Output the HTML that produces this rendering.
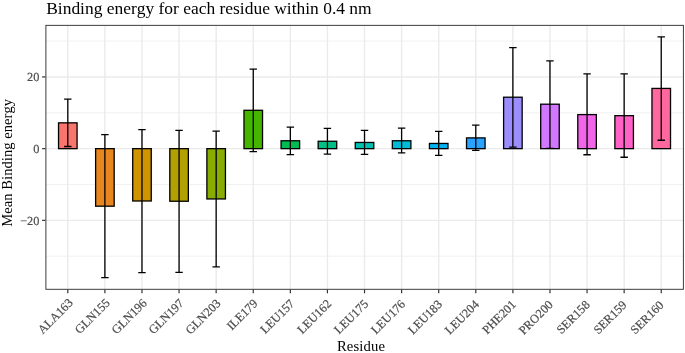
<!DOCTYPE html>
<html><head><meta charset="utf-8"><title>Binding energy</title>
<style>
html,body{margin:0;padding:0;background:#fff;}
body{width:685px;height:353px;overflow:hidden;}
svg{display:block;font-family:"Liberation Serif",serif;font-kerning:none;will-change:transform;}
</style></head>
<body>
<svg width="685" height="353" viewBox="0 0 685 353">
<rect x="0" y="0" width="685" height="353" fill="#fff"/>
<g stroke="#EBEBEB" stroke-width="0.71" fill="none">
<line x1="46.0" x2="683.2" y1="41.10" y2="41.10"/>
<line x1="46.0" x2="683.2" y1="112.80" y2="112.80"/>
<line x1="46.0" x2="683.2" y1="184.50" y2="184.50"/>
<line x1="46.0" x2="683.2" y1="256.20" y2="256.20"/>
</g>
<g stroke="#EBEBEB" stroke-width="1.42" fill="none">
<line x1="46.0" x2="683.2" y1="76.95" y2="76.95"/>
<line x1="46.0" x2="683.2" y1="148.65" y2="148.65"/>
<line x1="46.0" x2="683.2" y1="220.35" y2="220.35"/>
<line x1="67.80" x2="67.80" y1="25.6" y2="289.2"/>
<line x1="104.89" x2="104.89" y1="25.6" y2="289.2"/>
<line x1="141.98" x2="141.98" y1="25.6" y2="289.2"/>
<line x1="179.07" x2="179.07" y1="25.6" y2="289.2"/>
<line x1="216.16" x2="216.16" y1="25.6" y2="289.2"/>
<line x1="253.25" x2="253.25" y1="25.6" y2="289.2"/>
<line x1="290.34" x2="290.34" y1="25.6" y2="289.2"/>
<line x1="327.43" x2="327.43" y1="25.6" y2="289.2"/>
<line x1="364.52" x2="364.52" y1="25.6" y2="289.2"/>
<line x1="401.61" x2="401.61" y1="25.6" y2="289.2"/>
<line x1="438.70" x2="438.70" y1="25.6" y2="289.2"/>
<line x1="475.79" x2="475.79" y1="25.6" y2="289.2"/>
<line x1="512.88" x2="512.88" y1="25.6" y2="289.2"/>
<line x1="549.97" x2="549.97" y1="25.6" y2="289.2"/>
<line x1="587.06" x2="587.06" y1="25.6" y2="289.2"/>
<line x1="624.15" x2="624.15" y1="25.6" y2="289.2"/>
<line x1="661.24" x2="661.24" y1="25.6" y2="289.2"/>
</g>
<g stroke="#000" stroke-width="1.3" stroke-linejoin="miter">
<rect x="58.53" y="122.84" width="18.55" height="25.81" fill="#F8766D"/>
<rect x="95.62" y="148.65" width="18.55" height="57.54" fill="#E7851E"/>
<rect x="132.71" y="148.65" width="18.55" height="52.34" fill="#D09400"/>
<rect x="169.80" y="148.65" width="18.55" height="52.59" fill="#B2A100"/>
<rect x="206.89" y="148.65" width="18.55" height="50.30" fill="#89AC00"/>
<rect x="243.98" y="110.29" width="18.55" height="38.36" fill="#45B500"/>
<rect x="281.07" y="140.76" width="18.55" height="7.89" fill="#00BC51"/>
<rect x="318.16" y="141.26" width="18.55" height="7.39" fill="#00C087"/>
<rect x="355.25" y="142.45" width="18.55" height="6.20" fill="#00C0B2"/>
<rect x="392.34" y="140.76" width="18.55" height="7.89" fill="#00BCD6"/>
<rect x="429.43" y="143.45" width="18.55" height="5.20" fill="#00B3F2"/>
<rect x="466.52" y="137.90" width="18.55" height="10.75" fill="#29A3FF"/>
<rect x="503.61" y="97.21" width="18.55" height="51.44" fill="#9C8DFF"/>
<rect x="540.70" y="104.20" width="18.55" height="44.45" fill="#D277FF"/>
<rect x="577.79" y="114.59" width="18.55" height="34.06" fill="#F166E8"/>
<rect x="614.88" y="115.67" width="18.55" height="32.98" fill="#FF61C7"/>
<rect x="651.97" y="88.42" width="18.55" height="60.23" fill="#FF689E"/>
</g>
<g stroke="#000" stroke-width="1.3" fill="none" stroke-linecap="butt">
<path d="M64.09 99.18H71.51M67.80 99.18V146.50M64.09 146.50H71.51"/>
<path d="M101.18 134.56H108.60M104.89 134.56V277.71M101.18 277.71H108.60"/>
<path d="M138.27 129.65H145.69M141.98 129.65V272.69M138.27 272.69H145.69"/>
<path d="M175.36 130.37H182.78M179.07 130.37V272.33M175.36 272.33H182.78"/>
<path d="M212.45 131.08H219.87M216.16 131.08V266.85M212.45 266.85H219.87"/>
<path d="M249.54 69.06H256.96M253.25 69.06V151.55M249.54 151.55H256.96"/>
<path d="M286.63 127.14H294.05M290.34 127.14V154.57M286.63 154.57H294.05"/>
<path d="M323.72 128.36H331.14M327.43 128.36V154.03M323.72 154.03H331.14"/>
<path d="M360.81 130.37H368.23M364.52 130.37V154.39M360.81 154.39H368.23"/>
<path d="M397.90 128.22H405.32M401.61 128.22V152.95M397.90 152.95H405.32"/>
<path d="M434.99 131.44H442.41M438.70 131.44V155.46M434.99 155.46H442.41"/>
<path d="M472.08 125.17H479.50M475.79 125.17V150.44M472.08 150.44H479.50"/>
<path d="M509.17 47.55H516.59M512.88 47.55V147.04M509.17 147.04H516.59"/>
<path d="M546.26 60.82H553.68M549.97 60.82V148.29M546.26 148.29H553.68"/>
<path d="M583.35 73.87H590.77M587.06 73.87V154.74M583.35 154.74H590.77"/>
<path d="M620.44 73.87H627.86M624.15 73.87V157.25M620.44 157.25H627.86"/>
<path d="M657.53 36.80H664.95M661.24 36.80V140.23M657.53 140.23H664.95"/>
</g>
<rect x="45.9" y="25.35" width="637.50" height="263.95" fill="none" stroke="#333333" stroke-width="0.95"/>
<g stroke="#333333" stroke-width="1.2" fill="none">
<line x1="42.1" x2="45.5" y1="76.95" y2="76.95"/>
<line x1="42.1" x2="45.5" y1="148.65" y2="148.65"/>
<line x1="42.1" x2="45.5" y1="220.35" y2="220.35"/>
<line x1="67.80" x2="67.80" y1="289.7" y2="293.3"/>
<line x1="104.89" x2="104.89" y1="289.7" y2="293.3"/>
<line x1="141.98" x2="141.98" y1="289.7" y2="293.3"/>
<line x1="179.07" x2="179.07" y1="289.7" y2="293.3"/>
<line x1="216.16" x2="216.16" y1="289.7" y2="293.3"/>
<line x1="253.25" x2="253.25" y1="289.7" y2="293.3"/>
<line x1="290.34" x2="290.34" y1="289.7" y2="293.3"/>
<line x1="327.43" x2="327.43" y1="289.7" y2="293.3"/>
<line x1="364.52" x2="364.52" y1="289.7" y2="293.3"/>
<line x1="401.61" x2="401.61" y1="289.7" y2="293.3"/>
<line x1="438.70" x2="438.70" y1="289.7" y2="293.3"/>
<line x1="475.79" x2="475.79" y1="289.7" y2="293.3"/>
<line x1="512.88" x2="512.88" y1="289.7" y2="293.3"/>
<line x1="549.97" x2="549.97" y1="289.7" y2="293.3"/>
<line x1="587.06" x2="587.06" y1="289.7" y2="293.3"/>
<line x1="624.15" x2="624.15" y1="289.7" y2="293.3"/>
<line x1="661.24" x2="661.24" y1="289.7" y2="293.3"/>
</g>
<g font-size="12.3px" fill="#4D4D4D" text-anchor="end" style="text-rendering:geometricPrecision" stroke="#4D4D4D" stroke-width="0.18">
<text x="39.4" y="81.45">20</text>
<text x="39.4" y="153.15">0</text>
<text x="39.4" y="224.85">−20</text>
</g>
<g font-size="12.3px" fill="#4D4D4D" text-anchor="end" stroke="#4D4D4D" stroke-width="0.2">
<text transform="translate(67.90,297.70) rotate(-45)" x="0" y="8.2">ALA163</text>
<text transform="translate(104.81,297.84) rotate(-45)" x="0" y="8.2">GLN155</text>
<text transform="translate(141.73,297.99) rotate(-45)" x="0" y="8.2">GLN196</text>
<text transform="translate(178.64,298.13) rotate(-45)" x="0" y="8.2">GLN197</text>
<text transform="translate(215.56,298.27) rotate(-45)" x="0" y="8.2">GLN203</text>
<text transform="translate(252.47,298.42) rotate(-45)" x="0" y="8.2">ILE179</text>
<text transform="translate(289.39,298.56) rotate(-45)" x="0" y="8.2">LEU157</text>
<text transform="translate(326.31,298.71) rotate(-45)" x="0" y="8.2">LEU162</text>
<text transform="translate(363.22,298.85) rotate(-45)" x="0" y="8.2">LEU175</text>
<text transform="translate(400.14,298.99) rotate(-45)" x="0" y="8.2">LEU176</text>
<text transform="translate(437.05,299.14) rotate(-45)" x="0" y="8.2">LEU183</text>
<text transform="translate(473.97,299.28) rotate(-45)" x="0" y="8.2">LEU204</text>
<text transform="translate(510.88,299.43) rotate(-45)" x="0" y="8.2">PHE201</text>
<text transform="translate(547.80,299.57) rotate(-45)" x="0" y="8.2">PRO200</text>
<text transform="translate(584.71,299.71) rotate(-45)" x="0" y="8.2">SER158</text>
<text transform="translate(621.62,299.86) rotate(-45)" x="0" y="8.2">SER159</text>
<text transform="translate(658.54,300.00) rotate(-45)" x="0" y="8.2">SER160</text>
</g>
<text x="361.0" y="350.7" font-size="14.67px" fill="#000" text-anchor="middle" letter-spacing="0.12">Residue</text>
<text transform="translate(12,162.8) rotate(-90)" font-size="14.67px" fill="#000" text-anchor="middle">Mean Binding energy</text>
<text x="46.2" y="14.2" font-size="17.46px" fill="#000">Binding energy for each residue within 0.4 nm</text>
</svg>
</body></html>
